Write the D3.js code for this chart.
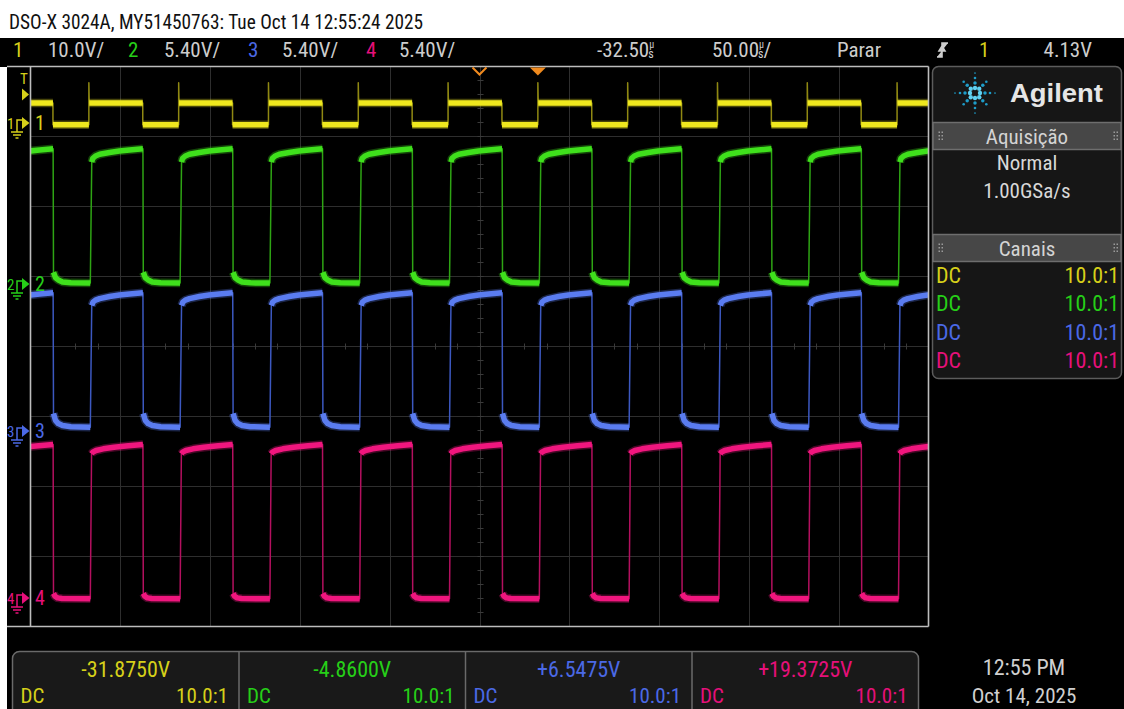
<!DOCTYPE html>
<html>
<head>
<meta charset="utf-8">
<script src="https://cdn.jsdelivr.net/npm/d3@7"></script>
<style>
  body { margin: 0; background: #fff; }
  svg text { font-family: "Liberation Sans Narrow", "Roboto Condensed", "DejaVu Sans Condensed", "Liberation Sans", sans-serif; }
</style>
</head>
<body>
<svg id="scope" width="1124" height="709"></svg>
<script>
// scope settings
const titleText = "DSO-X 3024A, MY51450763: Tue Oct 14 12:55:24 2025";
const timePerDiv = 50;     // µs/div
const timeDelay = -32.5;   // µs
const trigLevel = 4.13;    // V on channel 1
const runState = "Parar";

const chNames = ["1", "2", "3", "4"];
const chColors = ["#efe81e", "#3fe01c", "#5a7cf0", "#f0167e"];
const chEdgeColors = ["#8f8812", "#2ea414", "#3c58c0", "#b4105f"];
const chTextColors = ["#d6d01a", "#26cf18", "#4b69e6", "#e6107a"];
const voltsPerDiv = [10.0, 5.40, 5.40, 5.40];
const offsets = [-31.875, -4.86, 6.5475, 19.3725];
const offsetLabels = ["-31.8750V", "-4.8600V", "+6.5475V", "+19.3725V"];
const coupling = ["DC", "DC", "DC", "DC"];
const probes = ["10.0:1", "10.0:1", "10.0:1", "10.0:1"];
const acqLines = ["Normal", "1.00GSa/s"];

// rising edges of the clock (µs from trigger)
const risingEdges = [-300, -250, -200, -150, -100, -50, 0, 50, 100, 150, 200];

// one period of each trace: [µs after rising edge, volts]
const ch1Spike = [[0.0, 5.8]];
const ch1High = [[0.2, 2.9], [30.0, 2.9]];
const ch1Low = [[30.0, -0.2], [50.0, -0.2]];

const ch2High = [[1.6, 9.36], [2.1, 9.64], [3.7, 9.84], [6.0, 9.97], [11.5, 10.11], [17.0, 10.22], [22.6, 10.30], [30.1, 10.39]];
const ch2Low = [[30.3, 0.87], [31.4, 0.46], [33.0, 0.27], [35.3, 0.12], [40.0, 0.05], [50.8, 0.03]];

const ch3High = [[1.6, 9.71], [2.3, 9.97], [3.7, 10.12], [6.0, 10.24], [11.5, 10.40], [17.0, 10.52], [22.6, 10.60], [30.1, 10.69]];
const ch3Low = [[30.3, 1.38], [31.4, 0.85], [33.0, 0.60], [35.3, 0.45], [40.0, 0.36], [50.8, 0.32]];

const ch4High = [[1.5, 11.09], [2.2, 11.22], [4.0, 11.35], [8.0, 11.48], [14.0, 11.60], [22.0, 11.72], [30.1, 11.81]];
const ch4Low = [[30.3, 0.32], [31.2, 0.10], [32.5, -0.02], [35.0, -0.07], [50.8, -0.09]];

const traces = [
  { spike: ch1Spike, high: ch1High, low: ch1Low },
  { spike: [], high: ch2High, low: ch2Low },
  { spike: [], high: ch3High, low: ch3Low },
  { spike: [], high: ch4High, low: ch4Low }
];

const W = 1124, H = 709;
const plot = { left: 30.5, right: 928.5, top: 66.5, bottom: 626.5 };

const svg = d3.select("#scope");

// backgrounds
svg.append("rect").attr("width", W).attr("height", H).attr("fill", "#fff");
svg.append("rect").attr("x", 0).attr("y", 38).attr("width", W).attr("height", 29).attr("fill", "#000");
svg.append("rect").attr("x", 7).attr("y", 66).attr("width", W - 7).attr("height", H - 66).attr("fill", "#000");

svg.append("text").attr("x", 9).attr("y", 29).attr("font-size", 21).attr("fill", "#111")
  .attr("textLength", 414).attr("lengthAdjust", "spacingAndGlyphs").text(titleText);

// scales
const x = d3.scaleLinear()
  .domain([timeDelay - 5 * timePerDiv, timeDelay + 5 * timePerDiv])
  .range([plot.left, plot.right]);
const ys = voltsPerDiv.map((vd, i) => d3.scaleLinear()
  .domain([offsets[i] - 4 * vd, offsets[i] + 4 * vd])
  .range([plot.bottom, plot.top]));

// grid
const grid = svg.append("g").attr("stroke", "#2e2e2e").attr("stroke-width", 1);
const xDivs = d3.range(1, 10).map(k => timeDelay - 5 * timePerDiv + k * timePerDiv);
grid.selectAll("line.v").data(xDivs).join("line")
  .attr("x1", d => Math.round(x(d)) + 0.5).attr("x2", d => Math.round(x(d)) + 0.5)
  .attr("y1", plot.top).attr("y2", plot.bottom);
const yDivs = d3.range(1, 8).map(k => plot.top + k * (plot.bottom - plot.top) / 8);
grid.selectAll("line.h").data(yDivs).join("line")
  .attr("x1", plot.left).attr("x2", plot.right)
  .attr("y1", d => d).attr("y2", d => d);

// minor ticks on the centre lines
const cx = Math.round(x(timeDelay)) + 0.5, cy = plot.top + 4 * 70;
const divW = (plot.right - plot.left) / 10, divH = 70;
const ticks = svg.append("g").attr("stroke", "#3a3a3a").attr("stroke-width", 1);
d3.range(1, 40).forEach(k => {
  const yy = plot.top + k * divH / 5;
  ticks.append("line").attr("x1", cx - 3).attr("x2", cx + 3).attr("y1", yy).attr("y2", yy);
});
d3.range(1, 40).forEach(k => {
  const xx = Math.round(plot.left + k * divW / 4) + 0.5;
  ticks.append("line").attr("x1", xx).attr("x2", xx).attr("y1", cy - 3).attr("y2", cy + 3);
});

// traces
svg.append("clipPath").attr("id", "plotClip").append("rect")
  .attr("x", plot.left + 0.5).attr("y", plot.top + 0.5)
  .attr("width", plot.right - plot.left - 1).attr("height", plot.bottom - plot.top - 1);
const traceG = svg.append("g").attr("clip-path", "url(#plotClip)")
  .attr("fill", "none").attr("stroke-linecap", "butt").attr("stroke-linejoin", "round");

traces.forEach((tr, i) => {
  const line = d3.line().x(d => x(d[0])).y(d => ys[i](d[1]));
  const thin = risingEdges.flatMap(t0 =>
    [...tr.spike, ...tr.high, ...tr.low].map(p => [t0 + p[0], p[1]]));
  const pieces = risingEdges.flatMap(t0 =>
    [tr.high, tr.low].map(seg => seg.map(p => [t0 + p[0], p[1]])));
  const thickD = pieces.map(line).join("");

  traceG.append("path").attr("d", line(thin))
    .attr("stroke", chEdgeColors[i]).attr("stroke-width", 1.5);
  traceG.append("path").attr("d", thickD)
    .attr("stroke", chColors[i]).attr("stroke-width", 8.5).attr("stroke-opacity", 0.3);
  traceG.append("path").attr("d", thickD)
    .attr("stroke", chColors[i]).attr("stroke-width", 5.5);
});

// frame
const frame = svg.append("g").attr("stroke", "#bdbdbd").attr("stroke-width", 1.6);
frame.append("line").attr("x1", 7).attr("x2", plot.right).attr("y1", plot.top).attr("y2", plot.top);
frame.append("line").attr("x1", 7).attr("x2", plot.right).attr("y1", plot.bottom).attr("y2", plot.bottom);
frame.append("line").attr("x1", plot.left).attr("x2", plot.left).attr("y1", plot.top).attr("y2", plot.bottom);
frame.append("line").attr("x1", plot.right).attr("x2", plot.right).attr("y1", plot.top).attr("y2", plot.bottom);

// delay / trigger markers on top edge
const orange = "#f08a1e";
const xRef = x(timeDelay), xTrig = x(0);
svg.append("path").attr("d", `M${xRef - 7},${plot.top + 1} L${xRef},${plot.top + 8} L${xRef + 7},${plot.top + 1}`)
  .attr("fill", "none").attr("stroke", orange).attr("stroke-width", 2);
svg.append("path").attr("d", `M${xTrig - 8},${plot.top + 1} L${xTrig + 8},${plot.top + 1} L${xTrig},${plot.top + 9} Z`)
  .attr("fill", orange);

// trigger level marker
const yT = ys[0](trigLevel);
svg.append("text").attr("x", 24).attr("y", yT - 10).attr("font-size", 15).attr("text-anchor", "middle")
  .attr("fill", chTextColors[0]).text("T");
svg.append("path").attr("d", `M22,${yT - 6} L29,${yT} L22,${yT + 6} Z`).attr("fill", chTextColors[0]);

// ground markers
chNames.forEach((name, i) => {
  const y0 = Math.round(ys[i](0));
  const c = chTextColors[i];
  const m = svg.append("g");
  m.append("text").attr("x", 7).attr("y", y0 + 6).attr("font-size", 15).attr("fill", c).text(name);
  m.append("path").attr("d", `M17,${y0 + 9} V${y0 - 3} H22`).attr("fill", "none").attr("stroke", c).attr("stroke-width", 1.5);
  m.append("path").attr("d", `M11,${y0 + 9} H23 M13,${y0 + 12} H21 M15.5,${y0 + 15} H18.5`)
    .attr("stroke", c).attr("stroke-width", 1.3);
  m.append("path").attr("d", `M22,${y0 - 6} L29.5,${y0} L22,${y0 + 6} Z`).attr("fill", c);
  m.append("text").attr("x", 35).attr("y", y0 + 7).attr("font-size", 20).attr("fill", c).text(name);
});

// top status bar
const statusGrey = "#cdcdcd";
const sb = svg.append("g").attr("font-size", 21);
const voltLabels = voltsPerDiv.map(v => (v >= 10 ? v.toFixed(1) : v.toFixed(2)) + "V/");
const chLabelX = [13, 128, 248, 366];
const vLabelX = [48, 164, 282, 399];
chNames.forEach((n, i) => {
  sb.append("text").attr("x", chLabelX[i]).attr("y", 57).attr("fill", chTextColors[i]).text(n);
  sb.append("text").attr("x", vLabelX[i]).attr("y", 57).attr("fill", statusGrey).text(voltLabels[i]);
});
// time values with the stacked µ/s unit
function timeText(x0, value, suffix) {
  const t = sb.append("text").attr("x", x0).attr("y", 57).attr("fill", statusGrey);
  t.append("tspan").text(value.toFixed(2));
  t.append("tspan").attr("font-size", 10).attr("dy", -9).text("µ");
  t.append("tspan").attr("font-size", 12).attr("dx", -6).attr("dy", 10).text("s");
  if (suffix) t.append("tspan").attr("dy", -1).text(suffix);
}
timeText(597, timeDelay, "");
timeText(712, timePerDiv, "/");
sb.append("text").attr("x", 837).attr("y", 57).attr("fill", statusGrey).text(runState);
sb.append("path").attr("d", "M937,57 H942 V43 H948 M939,51 L942,46 L945,51 Z")
  .attr("stroke", statusGrey).attr("stroke-width", 1.6).attr("fill", statusGrey);
sb.append("text").attr("x", 979).attr("y", 57).attr("fill", chTextColors[0]).text("1");
sb.append("text").attr("x", 1092).attr("y", 57).attr("text-anchor", "end").attr("fill", statusGrey)
  .text(trigLevel.toFixed(2) + "V");

// right side panel
const panel = svg.append("g");
const pL = 932.5, pR = 1121.5, pMid = (pL + pR) / 2;
panel.append("rect").attr("x", pL).attr("y", 66.5).attr("width", pR - pL).attr("height", 312)
  .attr("rx", 6).attr("fill", "#161616").attr("stroke", "#5c5c5c").attr("stroke-width", 1.5);

// Agilent logo: spark of dots
const logo = panel.append("g");
const lx = 975, ly = 93;
[0, 45, 90, 135, 180, 225, 270, 315].forEach(a => {
  const rs = a % 90 === 0 ? [5, 10, 15, 20] : [6, 11, 16];
  rs.forEach((r, j) => {
    logo.append("circle")
      .attr("cx", lx + r * Math.cos(a * Math.PI / 180))
      .attr("cy", ly + r * Math.sin(a * Math.PI / 180))
      .attr("r", 2.2 - j * 0.45)
      .attr("fill", j === 0 ? "#5fd0f0" : "#1e9cc8");
  });
});
panel.append("text").attr("x", 1010).attr("y", 102).attr("font-size", 26).attr("font-weight", "bold")
  .style("font-family", "'Liberation Sans', Arial, sans-serif")
  .attr("fill", "#e6e6e6").attr("textLength", 93).attr("lengthAdjust", "spacingAndGlyphs").text("Agilent");

function panelHeader(y, label) {
  panel.append("rect").attr("x", pL + 0.5).attr("y", y).attr("width", pR - pL - 1).attr("height", 27)
    .attr("fill", "#474747").attr("stroke", "#6e6e6e").attr("stroke-width", 1.5);
  panel.append("text").attr("x", pMid).attr("y", y + 21).attr("text-anchor", "middle")
    .attr("font-size", 21).attr("fill", "#d4d4d4").text(label);
  [pL + 6, pR - 8].forEach(gx => {
    [0, 1].forEach(cI => [0, 1, 2].forEach(rI => {
      panel.append("rect").attr("x", gx + cI * 3).attr("y", y + 9 + rI * 3.5)
        .attr("width", 1.5).attr("height", 1.5).attr("fill", "#9a9a9a");
    }));
  });
}
panelHeader(122.5, "Aquisição");
acqLines.forEach((t, i) => {
  panel.append("text").attr("x", pMid).attr("y", 170 + i * 28).attr("text-anchor", "middle")
    .attr("font-size", 21).attr("fill", "#d8d8d8").text(t);
});
panelHeader(234.5, "Canais");
chNames.forEach((n, i) => {
  const yy = 283 + i * 28.4;
  panel.append("text").attr("x", 936).attr("y", yy).attr("font-size", 22).attr("fill", chTextColors[i]).text(coupling[i]);
  panel.append("text").attr("x", 1119).attr("y", yy).attr("text-anchor", "end").attr("font-size", 22)
    .attr("fill", chTextColors[i]).text(probes[i]);
});

// bottom channel boxes
const bottom = svg.append("g");
const bL = 12.5, bR = 918.5, cellW = (bR - bL) / 4;
bottom.append("rect").attr("x", bL).attr("y", 651.5).attr("width", bR - bL).attr("height", 70)
  .attr("rx", 7).attr("fill", "#191919").attr("stroke", "#6a6a6a").attr("stroke-width", 1.5);
chNames.forEach((n, i) => {
  const x0 = bL + i * cellW;
  if (i > 0) bottom.append("line").attr("x1", x0).attr("x2", x0).attr("y1", 652).attr("y2", 709)
    .attr("stroke", "#6a6a6a").attr("stroke-width", 1.5);
  bottom.append("text").attr("x", x0 + cellW / 2).attr("y", 677).attr("text-anchor", "middle")
    .attr("font-size", 22).attr("fill", chTextColors[i]).text(offsetLabels[i]);
  bottom.append("text").attr("x", x0 + 8).attr("y", 703).attr("font-size", 21)
    .attr("fill", chTextColors[i]).text(coupling[i]);
  bottom.append("text").attr("x", x0 + cellW - 11).attr("y", 703).attr("text-anchor", "end")
    .attr("font-size", 21).attr("fill", chTextColors[i]).text(probes[i]);
});

// clock
svg.append("text").attr("x", 1024).attr("y", 675).attr("text-anchor", "middle").attr("font-size", 22)
  .attr("fill", "#d0d0d0").text("12:55 PM");
svg.append("text").attr("x", 1024).attr("y", 703).attr("text-anchor", "middle").attr("font-size", 21)
  .attr("fill", "#d0d0d0").text("Oct 14, 2025");
</script>
</body>
</html>
